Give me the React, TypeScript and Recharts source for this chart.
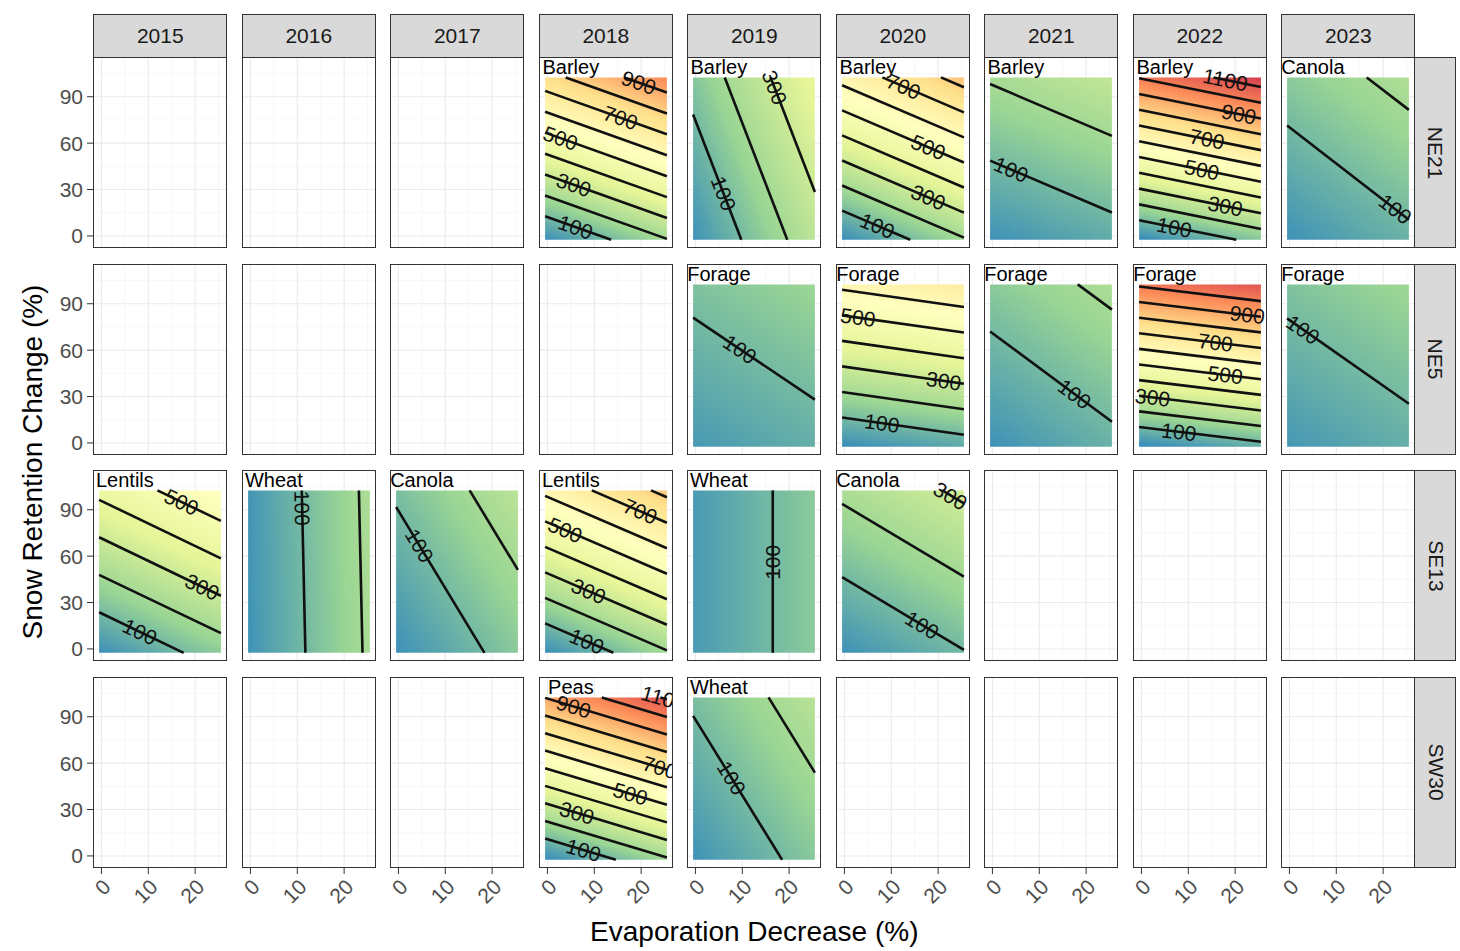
import React from 'react';
import { ComposedChart, XAxis, YAxis, CartesianGrid, Scatter, ReferenceArea } from 'recharts';

const years = ['2015', '2016', '2017', '2018', '2019', '2020', '2021', '2022', '2023'];
const sites = ['NE21', 'NE5', 'SE13', 'SW30'];
const xTicks = [0, 10, 20];
const yTicks = [0, 30, 60, 90];
const xMinor = [5, 15, 25];
const yMinor = [15, 45, 75, 105];

// facets that carry a fitted surface
const panelSite = ['NE21', 'NE21', 'NE21', 'NE21', 'NE21', 'NE21', 'NE5', 'NE5', 'NE5', 'NE5', 'NE5',
    'SE13', 'SE13', 'SE13', 'SE13', 'SE13', 'SE13', 'SW30', 'SW30'];
const panelYear = ['2018', '2019', '2020', '2021', '2022', '2023', '2019', '2020', '2021', '2022', '2023',
    '2015', '2016', '2017', '2018', '2019', '2020', '2018', '2019'];
const panelCrop = ['Barley', 'Barley', 'Barley', 'Barley', 'Barley', 'Canola', 'Forage', 'Forage', 'Forage', 'Forage', 'Forage',
    'Lentils', 'Wheat', 'Canola', 'Lentils', 'Wheat', 'Canola', 'Peas', 'Wheat'];

// surface value at raster corners: bottom-left, bottom-right, top-left
const panelCorners = [
    [-12, 196, 765], [-5, 260, 131], [-16, 192, 631], [-3, 64, 209], [-25, 132, 1005], [-4, 82, 144],
    [16, 70, 122], [-14, 53, 621], [-3, 78, 142], [-27, 67, 1013], [11, 70, 124],
    [-8, 148, 425], [0, 213, 6], [-6, 140, 112], [-15, 190, 621], [18, 144, 18], [-3, 96, 218],
    [-21, 187, 903], [-2, 138, 113],
];

// contour segments: [level, x1, y1, x2, y2]
const panelContours = [
    [[100, -0.5, 12.7, 13.6, -2.5], [200, -0.5, 26.2, 25.5, -1.9], [300, -0.5, 39.7, 25.5, 11.6], [400, -0.5, 53.2, 25.5, 25.1],
        [500, -0.5, 66.8, 25.5, 38.6], [600, -0.5, 80.3, 25.5, 52.2], [700, -0.5, 93.8, 25.5, 65.7], [800, 3.9, 102.5, 25.5, 79.2],
        [900, 16.4, 102.5, 25.5, 92.7]],
    [[100, -0.5, 78.5, 9.8, -2.5], [200, 6.25, 102.5, 19.6, -2.5], [300, 16.05, 102.5, 25.5, 28.4]],
    [[100, -0.5, 16.4, 14.05, -2.5], [200, -0.5, 32.6, 25.5, -1.1], [300, -0.5, 48.8, 25.5, 15.1], [400, -0.5, 65.0, 25.5, 31.3],
        [500, -0.5, 81.2, 25.5, 47.5], [600, -0.5, 97.4, 25.5, 63.7], [700, 8.1, 102.5, 25.5, 79.9], [800, 20.6, 102.5, 25.5, 96.1]],
    [[100, -0.5, 48.7, 25.5, 15.2], [200, -0.5, 98.2, 25.5, 64.7]],
    [[100, -0.5, 10.2, 20.25, -2.5], [200, -0.5, 20.4, 25.5, 4.5], [300, -0.5, 30.6, 25.5, 14.7], [400, -0.5, 40.8, 25.5, 24.9],
        [500, -0.5, 51.0, 25.5, 35.1], [600, -0.5, 61.2, 25.5, 45.3], [700, -0.5, 71.4, 25.5, 55.5], [800, -0.5, 81.6, 25.5, 65.7],
        [900, -0.5, 91.8, 25.5, 75.9], [1000, -0.5, 102.0, 25.5, 86.1], [1100, 15.4, 102.5, 25.5, 96.3]],
    [[100, -0.5, 71.4, 25.5, 10.5], [200, 16.5, 102.5, 25.5, 81.5]],
    [[100, -0.5, 81.0, 25.5, 28.0]],
    [[100, -0.5, 16.4, 25.5, 5.3], [200, -0.5, 32.9, 25.5, 21.8], [300, -0.5, 49.5, 25.5, 38.3], [400, -0.5, 66.0, 25.5, 54.8],
        [500, -0.5, 82.5, 25.5, 71.4], [600, -0.5, 99.0, 25.5, 87.9]],
    [[100, -0.5, 72.1, 25.5, 13.7], [200, 18.2, 102.5, 25.5, 86.2]],
    [[100, -0.5, 10.3, 25.5, 0.8], [200, -0.5, 20.4, 25.5, 10.9], [300, -0.5, 30.5, 25.5, 21.0], [400, -0.5, 40.6, 25.5, 31.1],
        [500, -0.5, 50.7, 25.5, 41.2], [600, -0.5, 60.8, 25.5, 51.3], [700, -0.5, 70.9, 25.5, 61.4], [800, -0.5, 81.0, 25.5, 71.5],
        [900, -0.5, 91.1, 25.5, 81.6], [1000, -0.5, 101.2, 25.5, 91.7]],
    [[100, -0.5, 80.5, 25.5, 25.3]],
    [[100, -0.5, 23.7, 17.55, -2.5], [200, -0.5, 47.9, 25.5, 10.2], [300, -0.5, 72.2, 25.5, 34.4], [400, -0.5, 96.4, 25.5, 58.6],
        [500, 11.95, 102.5, 25.5, 82.8]],
    [[100, 11.73, -2.5, 10.96, 102.5], [200, 23.92, -2.5, 23.15, 102.5]],
    [[100, -0.5, 91.8, 18.36, -2.5], [200, 15.2, 102.5, 25.5, 51.1]],
    [[100, -0.5, 16.5, 14.07, -2.5], [200, -0.5, 33.0, 25.5, -0.9], [300, -0.5, 49.5, 25.5, 15.6], [400, -0.5, 66.0, 25.5, 32.1],
        [500, -0.5, 82.5, 25.5, 48.6], [600, -0.5, 99.0, 25.5, 65.1], [700, 9.47, 102.5, 25.5, 81.6], [800, 22.1, 102.5, 25.5, 98.1]],
    [[100, 16.5, -2.5, 16.5, 102.5]],
    [[100, -0.5, 46.4, 25.5, -0.67], [200, -0.5, 93.8, 25.5, 46.7], [300, 20.9, 102.5, 25.5, 94.1]],
    [[100, -0.5, 11.25, 14.6, -2.5], [200, -0.5, 22.6, 25.5, -1.0], [300, -0.5, 34.0, 25.5, 10.3], [400, -0.5, 45.3, 25.5, 21.7],
        [500, -0.5, 56.7, 25.5, 33.1], [600, -0.5, 68.1, 25.5, 44.4], [700, -0.5, 79.4, 25.5, 55.8], [800, -0.5, 90.8, 25.5, 67.2],
        [900, -0.5, 102.2, 25.5, 78.5], [1000, 11.6, 102.5, 25.5, 89.9], [1100, 24.1, 102.5, 25.5, 101.25]],
    [[100, -0.5, 90.6, 18.5, -2.5], [200, 15.6, 102.5, 25.5, 53.9]],
];

// contour labels: [level, x, y]
const panelLabels = [
    [[100, 6, 5.7], [300, 5.6, 33.1], [500, 2.8, 63.2], [700, 15.6, 76.4], [900, 19.5, 99.2]],
    [[100, 6, 27.5], [300, 16.9, 96]],
    [[100, 7, 6.6], [300, 17.9, 25], [500, 17.9, 57.4], [700, 12.6, 96.6]],
    [[100, 4, 42.9]],
    [[100, 7, 5.6], [300, 17.9, 19.3], [500, 12.9, 42.8], [700, 14, 62.6], [900, 20.8, 78.8], [1100, 17.9, 101]],
    [[100, 22.6, 17.4]],
    [[100, 9.5, 60.6]],
    [[100, 8, 12.8], [300, 21.2, 40.1], [500, 2.9, 81.2]],
    [[100, 17.5, 31.7]],
    [[100, 8, 7.2], [300, 2.4, 29.5], [500, 17.9, 44], [700, 15.8, 65], [900, 22.6, 82.9]],
    [[100, 2.9, 73.3]],
    [[100, 8.2, 11.1], [300, 21.5, 40.1], [500, 17.1, 95]],
    [[100, 11.05, 91]],
    [[100, 4.5, 66.8]],
    [[100, 8.4, 4.9], [300, 8.8, 37.4], [500, 3.8, 76.9], [700, 19.8, 89]],
    [[100, 16.5, 56]],
    [[100, 16.6, 15.4], [300, 22.6, 99]],
    [[100, 7.7, 3.8], [300, 6.3, 27.8], [500, 17.7, 40.2], [700, 24, 57.2], [900, 5.6, 96.6], [1100, 24.8, 101.9]],
    [[100, 7.7, 50.4]],
];

const fillBreaks = [-27, 171, 369, 567, 765, 963, 1161];
const fillColors = ['#3288BD', '#99D594', '#E6F598', '#FFFFBF', '#FEE08B', '#FC8D59', '#D53E4F'];

const X_DOMAIN: [number, number] = [-1.8, 26.8];
const Y_DOMAIN: [number, number] = [-7.8, 115.7];
const PW = 134;
const PH = 191;
const KX = PW / (X_DOMAIN[1] - X_DOMAIN[0]);
const KY = PH / (Y_DOMAIN[1] - Y_DOMAIN[0]);
const Y_AXIS_W = 60;
const X_AXIS_H = 60;
const X_PAD = 14; // room for rotated tick labels on the bottom row
const FONT = '"Liberation Sans", Arial, sans-serif';

const colLeft = (c: number) => 93.3 + 148.5 * c;
const rowTop = (r: number) => 57 + 206.5 * r;

const hexRgb = (h: string) => [1, 3, 5].map((i) => parseInt(h.slice(i, i + 2), 16));

const colorAt = (z: number) => {
    if (z <= fillBreaks[0]) return fillColors[0];
    const last = fillBreaks.length - 1;
    if (z >= fillBreaks[last]) return fillColors[last];
    let i = 0;
    while (z > fillBreaks[i + 1]) i++;
    const t = (z - fillBreaks[i]) / (fillBreaks[i + 1] - fillBreaks[i]);
    const a = hexRgb(fillColors[i]);
    const b = hexRgb(fillColors[i + 1]);
    const c = a.map((v, k) => Math.round(v + (b[k] - v) * t));
    return `rgb(${c[0]},${c[1]},${c[2]})`;
};

// linear gradient in bounding-box space that follows the planar surface
const SurfaceGradient = ({ id, corners }: { id: string; corners: number[] }) => {
    const [zBL, zBR, zTL] = corners;
    const A = zBR - zBL;
    const B = zTL - zBL;
    const h = (Math.abs(A) + Math.abs(B)) / 2;
    const n = A * A + B * B || 1;
    const dx = (A * h) / n;
    const dy = (-B * h) / n;
    const zc = zBL + A / 2 + B / 2;
    const zmin = zc - h;
    const zmax = zc + h;
    const stops: Array<[number, string]> = [[0, colorAt(zmin)]];
    fillBreaks.forEach((v, i) => {
        if (v > zmin && v < zmax) stops.push([(v - zmin) / (zmax - zmin), fillColors[i]]);
    });
    stops.push([1, colorAt(zmax)]);
    return (
        <linearGradient id={id} x1={0.5 - dx} y1={0.5 - dy} x2={0.5 + dx} y2={0.5 + dy}>
            {stops.map(([o, c], i) => (
                <stop key={i} offset={o} stopColor={c} />
            ))}
        </linearGradient>
    );
};

const labelAngle = (seg: number[]) => {
    const [, x1, y1, x2, y2] = seg;
    let a = (Math.atan2(-(y2 - y1) * KY, (x2 - x1) * KX) * 180) / Math.PI;
    if (a >= 90) a -= 180;
    if (a < -90) a += 180;
    return a;
};

const XTick = (props: any) => {
    const { x, y, payload } = props;
    return (
        <text
            transform={`translate(${x + 5.5},${y + 7}) rotate(-45)`}
            textAnchor="end"
            dy="0.35em"
            fontSize={21}
            fill="#4d4d4d"
        >
            {payload.value}
        </text>
    );
};

const Facet = ({ row, col }: { row: number; col: number }) => {
    const idx = panelSite.findIndex((s, i) => s === sites[row] && panelYear[i] === years[col]);
    const showY = col === 0;
    const showX = row === sites.length - 1;
    const yW = showY ? Y_AXIS_W : 0;
    const padL = showY ? 0 : showX ? X_PAD : 0;
    const offset = yW + padL;
    const xH = showX ? X_AXIS_H : 0;
    const clipId = `plot-clip-${offset}`;
    const empty = idx < 0;

    const contours = empty ? [] : panelContours[idx];
    const labels = empty
        ? []
        : panelLabels[idx].map(([level, x, y]) => {
            const seg = contours.find((c) => c[0] === level) || contours[0];
            return { x, y, level, angle: labelAngle(seg) };
        });

    return (
        <div style={{ position: 'absolute', left: colLeft(col) - offset, top: rowTop(row) }}>
            <ComposedChart width={PW + offset} height={PH + xH} margin={{ top: 0, right: 0, bottom: 0, left: padL }}>
                <CartesianGrid stroke="#f3f3f3" strokeWidth={0.6} horizontalValues={yMinor} verticalValues={xMinor} />
                <CartesianGrid stroke="#ebebeb" strokeWidth={1.1} horizontalValues={yTicks} verticalValues={xTicks} />
                <XAxis
                    type="number"
                    dataKey="x"
                    domain={X_DOMAIN}
                    allowDataOverflow={empty}
                    ticks={xTicks}
                    hide={!showX}
                    height={X_AXIS_H}
                    axisLine={false}
                    tickLine={{ stroke: '#333' }}
                    tickSize={6}
                    tickMargin={2}
                    tick={XTick}
                    interval={0}
                />
                <YAxis
                    type="number"
                    dataKey="y"
                    domain={Y_DOMAIN}
                    allowDataOverflow={empty}
                    ticks={yTicks}
                    hide={!showY}
                    width={Y_AXIS_W}
                    axisLine={false}
                    tickLine={{ stroke: '#333' }}
                    tickSize={6}
                    tickMargin={4}
                    tick={{ fontSize: 21, fill: '#4d4d4d' }}
                    interval={0}
                />
                {!empty && (
                    <ReferenceArea
                        x1={-0.5}
                        x2={25.5}
                        y1={-2.5}
                        y2={102.5}
                        fill={`url(#surface-${idx})`}
                        fillOpacity={1}
                        stroke="none"
                    />
                )}
                {contours.map(([level, x1, y1, x2, y2], i) => (
                    <Scatter
                        key={`c${i}`}
                        name={`${level}`}
                        data={[{ x: x1, y: y1 }, { x: x2, y: y2 }]}
                        fill="#111"
                        stroke="#111"
                        strokeWidth={2.6}
                        line={{ stroke: '#111', strokeWidth: 2.6 }}
                        shape={() => <g />}
                        isAnimationActive={false}
                    />
                ))}
                {!empty && (
                    <Scatter
                        data={labels}
                        fill="#111"
                        isAnimationActive={false}
                        shape={(p: any) => (
                            <g clipPath={`url(#${clipId})`}>
                                <text
                                    x={p.cx}
                                    y={p.cy}
                                    transform={`rotate(${p.payload.angle} ${p.cx} ${p.cy})`}
                                    textAnchor="middle"
                                    dominantBaseline="central"
                                    fontSize={21}
                                    fill="#111"
                                >
                                    {p.payload.level}
                                </text>
                            </g>
                        )}
                    />
                )}
                {!empty && (
                    <Scatter
                        data={[{ x: 5, y: 109.4, crop: panelCrop[idx] }]}
                        fill="#000"
                        isAnimationActive={false}
                        shape={(p: any) => (
                            <text x={p.cx} y={p.cy} textAnchor="middle" dominantBaseline="central" fontSize={20} fill="#000">
                                {p.payload.crop}
                            </text>
                        )}
                    />
                )}
            </ComposedChart>
            <div
                style={{
                    position: 'absolute',
                    left: offset,
                    top: 0,
                    width: PW,
                    height: PH,
                    border: '1.3px solid #333',
                    boxSizing: 'border-box',
                    pointerEvents: 'none',
                }}
            />
        </div>
    );
};

const App = () => {
    return (
        <div
            style={{
                position: 'absolute',
                left: 0,
                top: 0,
                width: 1460,
                height: 951,
                background: '#fff',
                fontFamily: FONT,
                overflow: 'hidden',
            }}
        >
            <svg width={0} height={0} style={{ position: 'absolute' }}>
                <defs>
                    {panelCorners.map((c, i) => (
                        <SurfaceGradient key={i} id={`surface-${i}`} corners={c} />
                    ))}
                    {[0, X_PAD, Y_AXIS_W].map((o) => (
                        <clipPath key={o} id={`plot-clip-${o}`}>
                            <rect x={o} y={0} width={PW} height={PH} />
                        </clipPath>
                    ))}
                </defs>
            </svg>

            {years.map((yr, c) => (
                <div
                    key={yr}
                    style={{
                        position: 'absolute',
                        left: colLeft(c),
                        top: 13.5,
                        width: PW,
                        height: 44,
                        background: '#d9d9d9',
                        border: '1.3px solid #333',
                        boxSizing: 'border-box',
                        display: 'flex',
                        alignItems: 'center',
                        justifyContent: 'center',
                        fontSize: 21,
                        color: '#1a1a1a',
                    }}
                >
                    {yr}
                </div>
            ))}

            {sites.map((s, r) => (
                <div
                    key={s}
                    style={{
                        position: 'absolute',
                        left: colLeft(8) + PW - 1,
                        top: rowTop(r),
                        width: 42,
                        height: PH,
                        background: '#d9d9d9',
                        border: '1.3px solid #333',
                        boxSizing: 'border-box',
                        display: 'flex',
                        alignItems: 'center',
                        justifyContent: 'center',
                        fontSize: 21,
                        color: '#1a1a1a',
                    }}
                >
                    <span style={{ transform: 'rotate(90deg)', whiteSpace: 'nowrap' }}>{s}</span>
                </div>
            ))}

            {sites.map((s, r) => years.map((y, c) => <Facet key={`${s}-${y}`} row={r} col={c} />))}

            <div
                style={{
                    position: 'absolute',
                    left: colLeft(0),
                    width: colLeft(8) + PW - colLeft(0),
                    top: 915,
                    lineHeight: '34px',
                    textAlign: 'center',
                    fontSize: 28,
                    color: '#000',
                }}
            >
                Evaporation Decrease (%)
            </div>
            <div
                style={{
                    position: 'absolute',
                    left: 33 - 250,
                    top: 462 - 17,
                    width: 500,
                    lineHeight: '34px',
                    textAlign: 'center',
                    fontSize: 28,
                    color: '#000',
                    transform: 'rotate(-90deg)',
                }}
            >
                Snow Retention Change (%)
            </div>
        </div>
    );
};

export default App;
